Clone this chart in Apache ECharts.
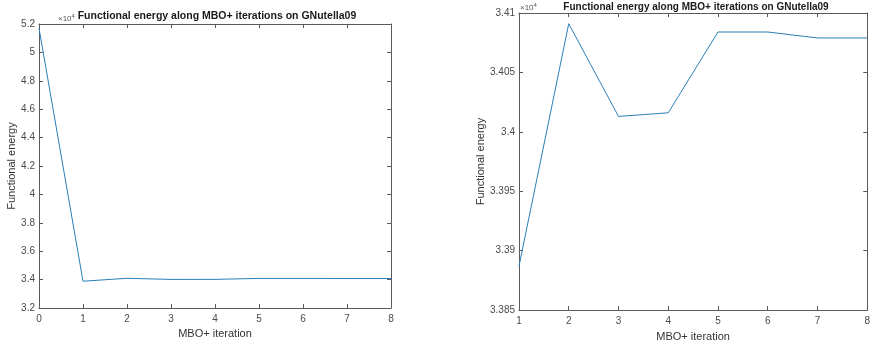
<!DOCTYPE html>
<html>
<head>
<meta charset="utf-8">
<script src="https://cdn.jsdelivr.net/npm/echarts@6/dist/echarts.min.js"></script>
<style>
  html, body { margin: 0; padding: 0; background: #fff; }
  #chart { width: 873px; height: 347px; }
</style>
</head>
<body>
<div id="chart"></div>
<script>
// data (values in units, axis shows x10^4)
let itersLeft = [0, 1, 2, 3, 4, 5, 6, 7, 8];
let energyLeft = [51700, 33887, 34091, 34013, 34016, 34084, 34084, 34079, 34079];
let itersRight = [1, 2, 3, 4, 5, 6, 7, 8];
let energyRight = [33887, 34091, 34013, 34016, 34084, 34084, 34079, 34079];

let titleText = 'Functional energy along MBO+ iterations on GNutella09';
let font = 'Liberation Sans, Arial, sans-serif';
let axisCol = '#5a5a5a';
let labelCol = '#4a4a4a';
let lineCol = '#2a80b9';

function pairs(xs, ys) {
    let out = [];
    for (let i = 0; i < xs.length; i++) out.push([xs[i], ys[i]]);
    return out;
}

function fmt(v) {
    return String(+(v / 1e4).toFixed(4));
}

// one axis pair for the box sides; "main" ones carry labels
function xAx(grid, min, max, pos, main, nameGap) {
    return {
        type: 'value', gridIndex: grid, min: min, max: max, interval: 1,
        position: pos,
        name: main ? 'MBO+ iteration' : '',
        nameLocation: 'middle', nameGap: nameGap,
        nameTextStyle: { fontFamily: font, fontSize: 11, color: '#333' },
        axisLine: { show: true, onZero: false, lineStyle: { color: axisCol, width: 1 } },
        axisTick: { show: true, inside: true, length: 4, lineStyle: { color: axisCol } },
        axisLabel: { show: main, margin: 6, fontFamily: font, fontSize: 10, color: labelCol },
        splitLine: { show: false }
    };
}
function yAx(grid, min, max, interval, pos, main, nameGap) {
    return {
        type: 'value', gridIndex: grid, min: min, max: max, interval: interval,
        position: pos,
        name: main ? 'Functional energy' : '',
        nameLocation: 'middle', nameGap: nameGap,
        nameTextStyle: { fontFamily: font, fontSize: 11, color: '#333' },
        axisLine: { show: true, onZero: false, lineStyle: { color: axisCol, width: 1 } },
        axisTick: { show: true, inside: true, length: 4, lineStyle: { color: axisCol } },
        axisLabel: { show: main, margin: 4, fontFamily: font, fontSize: 10, color: labelCol, formatter: fmt },
        splitLine: { show: false }
    };
}

let chart = echarts.init(document.getElementById('chart'));
chart.setOption({
    animation: false,
    backgroundColor: '#fff',
    title: [
        { text: titleText, left: 212, top: 6, textAlign: 'center',
          textStyle: { fontFamily: font, fontSize: 10.5, fontWeight: 'bold', color: '#1a1a1a' } },
        { text: titleText, left: 691, top: -3, textAlign: 'center',
          textStyle: { fontFamily: font, fontSize: 10, fontWeight: 'bold', color: '#1a1a1a' } }
    ],
    grid: [
        { left: 39, top: 24, width: 352, height: 284 },
        { left: 519, top: 13, width: 352, height: 304 }
    ],
    xAxis: [
        xAx(0, 0, 8, 'bottom', true, 17),
        xAx(0, 0, 8, 'top', false, 0),
        xAx(1, 1, 8, 'bottom', true, 16),
        xAx(1, 1, 8, 'top', false, 0)
    ],
    yAxis: [
        yAx(0, 32000, 52000, 2000, 'left', true, 21),
        yAx(0, 32000, 52000, 2000, 'right', false, 0),
        yAx(1, 33850, 34100, 50, 'left', true, 29),
        yAx(1, 33850, 34100, 50, 'right', false, 0)
    ],
    graphic: [
        { type: 'text', left: 58, top: 13,
          style: { text: '×10{s|4}', fontFamily: font, fontSize: 8, fill: '#555',
                   rich: { s: { fontSize: 6, verticalAlign: 'top', padding: [0, 0, 5, 0], fill: '#555' } } } },
        { type: 'text', left: 520, top: 2,
          style: { text: '×10{s|4}', fontFamily: font, fontSize: 8, fill: '#555',
                   rich: { s: { fontSize: 6, verticalAlign: 'top', padding: [0, 0, 5, 0], fill: '#555' } } } }
    ],
    series: [
        { type: 'line', xAxisIndex: 0, yAxisIndex: 0, data: pairs(itersLeft, energyLeft),
          showSymbol: false, lineStyle: { color: lineCol, width: 1 } },
        { type: 'line', xAxisIndex: 2, yAxisIndex: 2, data: pairs(itersRight, energyRight),
          showSymbol: false, lineStyle: { color: lineCol, width: 1 } }
    ]
});
</script>
</body>
</html>
